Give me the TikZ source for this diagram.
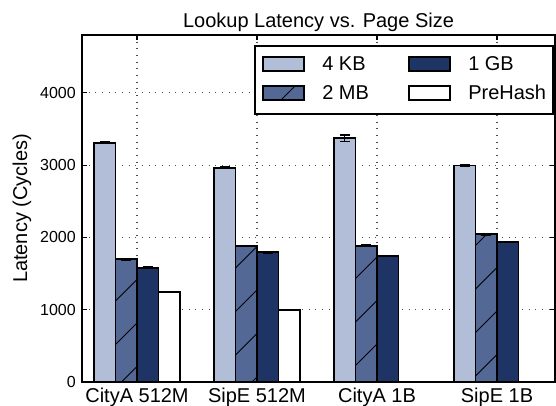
\documentclass[tikz,border=0pt]{standalone}
\usepackage{fontspec}
\setmainfont{Liberation Sans}
\definecolor{c0}{RGB}{178,190,216}
\definecolor{c1}{RGB}{84,104,150}
\definecolor{c2}{RGB}{30,52,100}
\definecolor{c3}{RGB}{255,255,255}
\begin{document}
\begin{tikzpicture}[x=0.75pt,y=-0.75pt,
  barbox/.style={draw=black, line width=1.3pt},
  hatchline/.style={draw=black, line width=0.7pt},
  gridline/.style={line width=0.8pt, dash pattern=on 0.8pt off 4.2pt, black!70},
  tickmark/.style={line width=0.9pt},
  frame/.style={line width=1.3pt},
  ticklab/.style={font=\fontsize{12}{14}\selectfont, anchor=east, inner sep=0pt},
  biglab/.style={font=\fontsize{15}{17}\selectfont, inner sep=0pt},
  errline/.style={line width=1.1pt}
]
\useasboundingbox (0,0) rectangle (556,406);

% grid lines
\foreach \v in {1000,2000,3000,4000} {
  \draw[gridline] (82,{382-\v*0.0723}) -- (555,{382-\v*0.0723});
}
\foreach \x in {137,257,377,497} {
  \draw[gridline] (\x,35) -- (\x,382);
}

% bars: group / index / value / error
\foreach \g/\j/\v/\e in {0/0/3310/10, 0/1/1697/8, 0/2/1580/8, 0/3/1245/8,
                         1/0/2965/10, 1/1/1880/8, 1/2/1794/8, 1/3/996/8,
                         2/0/3370/45, 2/1/1885/8, 2/2/1743/8,
                         3/0/2995/15, 3/1/2043/8, 3/2/1936/8} {
  \pgfmathsetmacro{\xl}{94+120*\g+21.5*\j}
  \pgfmathsetmacro{\xr}{\xl+21.5}
  \pgfmathsetmacro{\xm}{\xl+10.75}
  \pgfmathsetmacro{\yt}{382-\v*0.0723}
  \pgfmathsetmacro{\ya}{382-(\v+\e)*0.0723}
  \pgfmathsetmacro{\yb}{382-(\v-\e)*0.0723}
  \fill[c\j] (\xl,382) rectangle (\xr,\yt);
  \ifnum\j=1
    \begin{scope}
      \clip (\xl,382) rectangle (\xr,\yt);
      \foreach \k in {-5,...,11} {
        \pgfmathsetmacro{\cc}{503.5+43.5*\k}
        \draw[hatchline] (\xl,{\cc-\xl}) -- (\xr,{\cc-\xr});
      }
    \end{scope}
  \fi
  \draw[barbox] (\xl,382) rectangle (\xr,\yt);
  \draw[errline] (\xm,\ya) -- (\xm,\yb);
  \draw[errline] (\xm-5,\ya) -- (\xm+5,\ya);
  \draw[errline] (\xm-5,\yb) -- (\xm+5,\yb);
}

% frame and ticks
\draw[frame] (82,35) rectangle (555,382);
\foreach \v in {0,1000,2000,3000,4000} {
  \draw[tickmark] (82,{382-\v*0.0723}) -- (87,{382-\v*0.0723});
  \draw[tickmark] (555,{382-\v*0.0723}) -- (550,{382-\v*0.0723});
  \node[ticklab] (yt\v) at (76,{382-\v*0.0723}) {\v};
}
\foreach \x in {137,257,377,497} {
  \draw[tickmark] (\x,35) -- (\x,40);
}

% x labels
\node[biglab, anchor=base] (xl0) at (137,402) {CityA 512M};
\node[biglab, anchor=base] (xl1) at (257,402) {SipE 512M};
\node[biglab, anchor=base] (xl2) at (377,402) {CityA 1B};
\node[biglab, anchor=base] (xl3) at (497,402) {SipE 1B};

% title and axis label
\node[biglab, anchor=base] (title) at (318.5,28) {Lookup Latency vs. Page Size};
\node[biglab, anchor=base, rotate=90] (ylab) at (27,208.5) {Latency (Cycles)};

% legend
\draw[frame, fill=white] (255,46) rectangle (553,114);
\draw[barbox, fill=c0] (263,57) rectangle (304,71);
\draw[barbox, fill=c1] (263,86) rectangle (304,100);
\begin{scope}
  \clip (263,86) rectangle (304,100);
  \draw[hatchline] (270,111) -- (310,71);
\end{scope}
\draw[barbox] (263,86) rectangle (304,100);
\draw[barbox, fill=c2] (409,57) rectangle (450,71);
\draw[barbox, fill=c3] (409,86) rectangle (450,100);
\node[biglab, anchor=base west] (l0) at (322,71) {4 KB};
\node[biglab, anchor=base west] (l1) at (322,100) {2 MB};
\node[biglab, anchor=base west] (l2) at (468,71) {1 GB};
\node[biglab, anchor=base west] (l3) at (468,100) {PreHash};
\end{tikzpicture}
\end{document}
